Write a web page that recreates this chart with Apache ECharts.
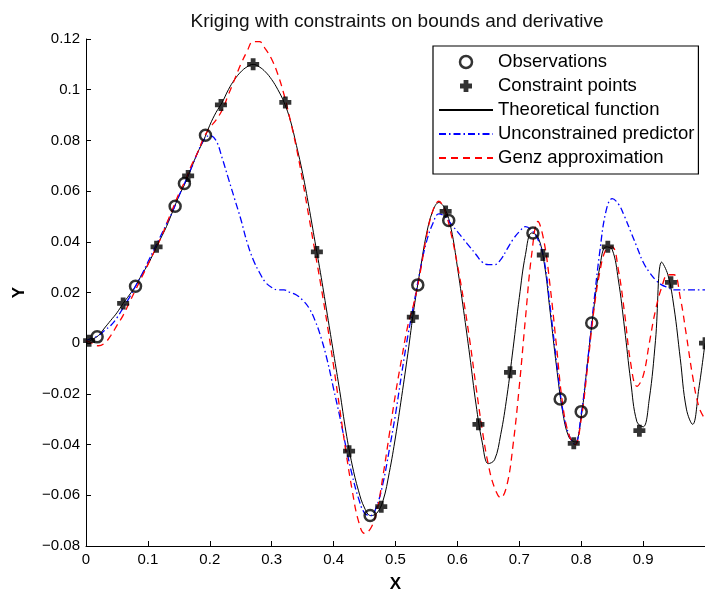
<!DOCTYPE html>
<html>
<head>
<meta charset="utf-8">
<script src="https://cdn.jsdelivr.net/npm/echarts@6/dist/echarts.min.js"></script>
<style>html,body{margin:0;padding:0;background:#fff}#c{width:705px;height:598px}</style>
</head>
<body>
<div id="c"></div>
<script>
// Common x grid for the three curves
const xGrid = [0.00,0.01,0.02,0.03,0.04,0.05,0.06,0.07,0.08,0.09,
  0.10,0.11,0.12,0.13,0.14,0.15,0.16,0.17,0.18,0.19,
  0.20,0.21,0.22,0.23,0.24,0.25,0.26,0.27,0.28,0.29,
  0.30,0.31,0.32,0.33,0.34,0.35,0.36,0.37,0.38,0.39,
  0.40,0.41,0.42,0.43,0.44,0.45,0.46,0.47,0.48,0.49,
  0.50,0.51,0.52,0.53,0.54,0.55,0.56,0.57,0.58,0.59,
  0.60,0.61,0.62,0.63,0.64,0.65,0.66,0.67,0.68,0.69,
  0.70,0.71,0.72,0.73,0.74,0.75,0.76,0.77,0.78,0.79,
  0.80,0.81,0.82,0.83,0.84,0.85,0.86,0.87,0.88,0.89,
  0.90,0.91,0.92,0.93,0.94,0.95,0.96,0.97,0.98,0.99,1.00];

const theoretical = [0.000,0.0015,0.003,0.006,0.009,0.012,0.0157,0.019,0.0225,0.027,
  0.031,0.036,0.041,0.046,0.052,0.058,0.063,0.069,0.075,0.080,
  0.086,0.091,0.095,0.100,0.104,0.107,0.109,0.110,0.109,0.107,
  0.104,0.100,0.095,0.088,0.078,0.067,0.054,0.040,0.026,0.011,
  -0.004,-0.019,-0.035,-0.048,-0.058,-0.065,-0.068,-0.067,-0.062,-0.051,
  -0.037,-0.021,-0.004,0.014,0.029,0.043,0.052,0.0555,0.053,0.045,
  0.030,0.013,-0.005,-0.024,-0.039,-0.0475,-0.046,-0.036,-0.021,-0.002,
  0.018,0.035,0.0435,0.042,0.032,0.012,-0.009,-0.027,-0.037,-0.039,
  -0.029,-0.008,0.013,0.030,0.038,0.037,0.025,0.006,-0.015,-0.031,
  -0.033,-0.022,0.001,0.032,0.027,0.014,-0.006,-0.026,-0.032,-0.018,0.000];

const unconstrained = [0.001,0.002,0.003,0.005,0.007,0.010,0.014,0.018,0.0225,0.027,
  0.032,0.037,0.042,0.047,0.052,0.058,0.0635,0.069,0.075,0.080,
  0.082,0.080,0.073,0.065,0.057,0.049,0.040,0.033,0.028,0.024,
  0.022,0.021,0.021,0.020,0.019,0.017,0.014,0.009,0.002,-0.007,
  -0.018,-0.029,-0.041,-0.052,-0.061,-0.067,-0.068,-0.064,-0.055,-0.042,
  -0.028,-0.012,0.003,0.016,0.029,0.040,0.047,0.051,0.050,0.047,
  0.044,0.041,0.038,0.035,0.032,0.031,0.031,0.033,0.037,0.041,
  0.044,0.046,0.0445,0.041,0.033,0.014,-0.007,-0.026,-0.036,-0.040,
  -0.028,-0.008,0.015,0.036,0.052,0.057,0.055,0.050,0.044,0.038,
  0.032,0.028,0.025,0.023,0.022,0.021,0.021,0.021,0.021,0.021,0.021];

const genz = [0.001,0.000,-0.001,0.000,0.003,0.007,0.011,0.016,0.021,0.026,
  0.031,0.036,0.041,0.047,0.053,0.059,0.064,0.070,0.075,0.081,
  0.085,0.088,0.092,0.098,0.104,0.110,0.115,0.119,0.119,0.116,
  0.112,0.106,0.098,0.088,0.077,0.064,0.050,0.036,0.022,0.007,
  -0.009,-0.026,-0.043,-0.058,-0.070,-0.075,-0.073,-0.066,-0.052,-0.036,
  -0.020,-0.006,0.007,0.016,0.028,0.042,0.052,0.056,0.052,0.043,
  0.031,0.017,0.001,-0.017,-0.034,-0.048,-0.057,-0.061,-0.056,-0.040,
  -0.017,0.010,0.035,0.048,0.040,0.022,-0.001,-0.024,-0.036,-0.040,
  -0.030,-0.010,0.012,0.028,0.037,0.038,0.029,0.012,-0.008,-0.017,
  -0.013,0.000,0.013,0.022,0.027,0.027,0.018,0.003,-0.013,-0.025,-0.030];

const obsX = [0.018,0.080,0.144,0.159,0.193,0.459,0.536,0.586,0.722,0.766,0.800,0.817];
const obsY = [0.0025,0.0225,0.054,0.063,0.082,-0.068,0.023,0.0484,0.0435,-0.022,-0.027,0.008];

const conX = [0.005,0.060,0.114,0.165,0.218,0.270,0.322,0.373,0.425,0.477,
  0.528,0.581,0.634,0.685,0.738,0.788,0.843,0.894,0.945,1.000];
const conY = [0.001,0.0157,0.038,0.066,0.094,0.110,0.095,0.036,-0.0426,-0.0645,
  0.0103,0.052,-0.032,-0.0115,0.0348,-0.0395,0.038,-0.0345,0.024,0.000];

const yTicks = [-0.08,-0.06,-0.04,-0.02,0,0.02,0.04,0.06,0.08,0.1,0.12];
const xTicks = [0,0.1,0.2,0.3,0.4,0.5,0.6,0.7,0.8,0.9];

const pair = (xs, ys) => xs.map((x, i) => [x, ys[i]]);
const FONT = "'Liberation Sans', Arial, sans-serif";
const PLUS = 'path://M3,0H7V3H10V7H7V10H3V7H0V3H3Z';
const NO_DOT = {color: 'rgba(0,0,0,0)', borderWidth: 0, opacity: 0};

const chart = echarts.init(document.getElementById('c'), null, {renderer: 'canvas'});
chart.setOption({
  animation: false,
  backgroundColor: '#fff',
  title: {
    text: 'Kriging with constraints on bounds and derivative',
    left: 396, top: 7, textAlign: 'center',
    textStyle: {fontFamily: FONT, fontSize: 19, fontWeight: 'normal', color: '#111'}
  },
  grid: {left: 86, top: 39, width: 623, height: 514, containLabel: false},
  legend: {
    orient: 'vertical', left: 433, top: 46,
    padding: [6, 4, 6, 5], itemGap: 4, itemWidth: 54, itemHeight: 12,
    borderColor: '#000', borderWidth: 1.2, backgroundColor: '#fff',
    textStyle: {fontFamily: FONT, fontSize: 18.5, color: '#000', lineHeight: 20},
    data: [
      {name: 'Observations', itemStyle: {borderWidth: 2.5, borderColor: '#000', color: '#fff'}},
      {name: 'Constraint points'},
      {name: 'Theoretical function', itemStyle: NO_DOT},
      {name: 'Unconstrained predictor', itemStyle: NO_DOT},
      {name: 'Genz approximation', itemStyle: NO_DOT}
    ]
  },
  xAxis: {
    type: 'value', min: 0, max: 1, interval: 0.1,
    name: 'X', nameLocation: 'middle', nameGap: 30,
    nameTextStyle: {fontFamily: FONT, fontSize: 17, fontWeight: 'bold', color: '#000'},
    axisLine: {show: true, onZero: false, lineStyle: {color: '#000', width: 1}},
    axisTick: {show: true, inside: true, length: 5, lineStyle: {color: '#000'}},
    axisLabel: {fontFamily: FONT, fontSize: 15, color: '#000', margin: 6, showMaxLabel: false,
      formatter: v => { const s = parseFloat(v.toFixed(1)); return xTicks.includes(s) ? String(s) : ''; }},
    splitLine: {show: false}
  },
  yAxis: {
    type: 'value', min: -0.08, max: 0.12, interval: 0.02,
    name: 'Y', nameLocation: 'middle', nameGap: 58, nameRotate: 90,
    nameTextStyle: {fontFamily: FONT, fontSize: 17, fontWeight: 'bold', color: '#000'},
    axisLine: {show: true, onZero: false, lineStyle: {color: '#000', width: 1}},
    axisTick: {show: true, inside: true, length: 5, lineStyle: {color: '#000'}},
    axisLabel: {fontFamily: FONT, fontSize: 15, color: '#000', margin: 6,
      formatter: v => { const s = parseFloat(v.toFixed(2)); return yTicks.includes(s) ? String(s).replace('-', '\u2212') : ''; }},
    splitLine: {show: false}
  },
  series: [
    {
      name: 'Theoretical function', type: 'line', symbol: 'none', smooth: 0.4,
      data: pair(xGrid, theoretical), z: 2,
      lineStyle: {color: '#000', width: 1}, itemStyle: {color: '#000'}
    },
    {
      name: 'Unconstrained predictor', type: 'line', symbol: 'none', smooth: 0.4,
      data: pair(xGrid, unconstrained), z: 3,
      lineStyle: {color: '#0000ff', width: 1.3, type: [7, 3, 1.5, 3]}, itemStyle: {color: '#0000ff'}
    },
    {
      name: 'Genz approximation', type: 'line', symbol: 'none', smooth: 0.4,
      data: pair(xGrid, genz), z: 4,
      lineStyle: {color: '#ff0000', width: 1.3, type: [7, 5]}, itemStyle: {color: '#ff0000'}
    },
    {
      name: 'Observations', type: 'scatter', symbol: 'circle', symbolSize: 11, z: 5,
      data: pair(obsX, obsY),
      itemStyle: {color: 'rgba(255,255,255,0)', borderColor: '#000', borderWidth: 2.5}
    },
    {
      name: 'Constraint points', type: 'scatter', symbol: PLUS, symbolSize: 12, z: 6,
      data: pair(conX, conY),
      itemStyle: {color: '#000'}
    }
  ]
});
chart.setOption({title: {left: 392}});
</script>
</body>
</html>
